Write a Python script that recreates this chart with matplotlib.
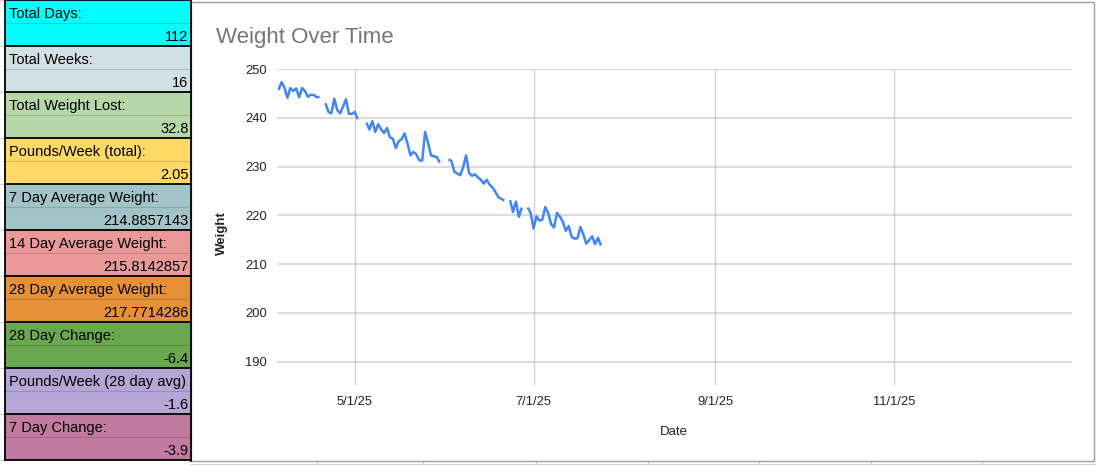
import matplotlib
matplotlib.use("Agg")
import matplotlib.pyplot as plt
import matplotlib.dates as mdates
from matplotlib.patches import Rectangle
import numpy as np
import datetime as dt

plt.rcParams['font.family'] = ['Liberation Sans', 'DejaVu Sans']

# ---------------- data ----------------
stat_labels = ["Total Days:", "Total Weeks:", "Total Weight Lost:", "Pounds/Week (total):",
               "7 Day Average Weight:", "14 Day Average Weight:", "28 Day Average Weight:",
               "28 Day Change:", "Pounds/Week (28 day avg)", "7 Day Change:"]
stat_values = ["112", "16", "32.8", "2.05", "214.8857143", "215.8142857", "217.7714286",
               "-6.4", "-1.6", "-3.9"]
stat_colors = ["#00FFFF", "#D0E0E3", "#B6D7A8", "#FFD966", "#A2C4C9", "#EA9999",
               "#E69138", "#6AA84F", "#B4A7D6", "#C27BA0"]

start_date = dt.date(2025, 4, 5)
nan = np.nan
weights = [
    245.7, 247.3, 246.2, 244.1, 246.1, 245.5, 246.0, 244.2, 246.1, 245.5,   # 0-9
    244.3, 244.7, 244.7, 244.2, 244.3, nan, 243.0, 241.2, 240.9, 243.9,     # 10-19
    241.6, 240.9, 242.3, 243.8, 240.8, 240.8, 241.2, 239.7, nan, nan,       # 20-29
    239.0, 237.6, 239.3, 237.1, 238.7, 237.6, 236.9, 237.9, 236.0, 235.7,   # 30-39
    233.8, 235.2, 235.6, 236.8, 234.7, 232.3, 233.0, 232.5, 231.3, 231.2,   # 40-49
    237.1, 234.9, 232.3, 232.1, 231.9, 230.8, nan, nan, 231.5, 231.1,       # 50-59
    228.9, 228.6, 228.2, 229.9, 232.3, 228.7, 228.1, 228.4, 227.8, 227.3,   # 60-69
    226.5, 227.3, 226.3, 225.7, 224.8, 223.7, 223.4, 223.0, nan, 223.1,     # 70-79
    220.7, 222.8, 219.7, 221.6, nan, 221.6, 220.5, 217.3, 219.8, 218.9,     # 80-89
    219.1, 221.7, 220.5, 218.2, 217.5, 220.5, 219.7, 218.7, 216.8, 217.8,   # 90-99
    215.6, 215.2, 215.3, 217.6, 216.1, 214.2, 214.9, 215.7, 214.1, 215.4,   # 100-109
    213.8,                                                                  # 110
]
dates = [start_date + dt.timedelta(days=i) for i in range(len(weights))]

y_ticks = [190, 200, 210, 220, 230, 240, 250]
x_ticks = [dt.date(2025, 5, 1), dt.date(2025, 7, 1), dt.date(2025, 9, 1), dt.date(2025, 11, 1)]
x_tick_labels = ["5/1/25", "7/1/25", "9/1/25", "11/1/25"]

# ---------------- figure ----------------
W, H = 1096, 465
fig = plt.figure(figsize=(W / 100, H / 100), dpi=100)
bg = fig.add_axes([0, 0, 1, 1])
bg.set_xlim(0, W)
bg.set_ylim(H, 0)
bg.axis('off')

# spreadsheet background gridlines (left margin & bottom)
for i in range(11):
    bg.plot([0, 5], [i * 46, i * 46], color="#d0d0d0", lw=0.8, zorder=1)
for xg in [317, 423, 536, 648, 759, 871, 982]:
    bg.plot([xg, xg], [461, 465], color="#d0d0d0", lw=0.8, zorder=1)
bg.plot([191, 1096], [463.5, 463.5], color="#d0d0d0", lw=0.8, zorder=1)

# stats table
x0, x1 = 5, 191
bh = 46
for i, (lab, val, col) in enumerate(zip(stat_labels, stat_values, stat_colors)):
    top = i * bh
    bg.add_patch(Rectangle((x0, top), x1 - x0, bh, facecolor=col, edgecolor='none', zorder=2))
    rgb = np.array(matplotlib.colors.to_rgb(col)) * 0.85
    bg.plot([x0, x1], [top + 23, top + 23], color=rgb, lw=0.8, zorder=3)
    bg.text(9, top + 18.3, lab, fontsize=10.5, color="#000000", ha='left', va='baseline', zorder=4)
    bg.text(188.5, top + 40.8, val, fontsize=10.5, color="#000000", ha='right', va='baseline', zorder=4)
for i in range(11):
    bg.plot([x0, x1], [i * bh, i * bh], color="black", lw=1.3, zorder=5)
bg.plot([x0, x0], [0, 460], color="black", lw=1.3, zorder=5)

# chart box
bg.add_patch(Rectangle((191, 2), 1094 - 191, 459, facecolor='white', edgecolor='#9e9e9e', lw=1.0, zorder=2))
bg.plot([x1, x1], [0, 461], color="black", lw=1.3, zorder=5)

bg.text(216, 42.8, "Weight Over Time", fontsize=16, color="#757575", ha='left', va='baseline', zorder=4)

# plot area (pixel coords)
pl, pr, pt, pb = 276.7, 1071.5, 69.0, 385.0
ax = fig.add_axes([pl / W, (H - pb) / H, (pr - pl) / W, (pb - pt) / H])
ax.patch.set_alpha(0)
ax.set_zorder(10)

ax.plot(dates, weights, color="#4285F4", lw=1.8, solid_capstyle='butt', zorder=3)

left = mdates.date2num(dt.date(2025, 5, 1)) - 26.65
right = mdates.date2num(dt.date(2025, 11, 1)) + 60.6
ax.set_xlim(left, right)
ax.set_ylim(185.2, 250)

ax.set_yticks(y_ticks)
ax.set_xticks(x_ticks)
ax.set_xticklabels(x_tick_labels)
ax.tick_params(axis='both', length=0, labelsize=9.3, labelcolor="#222222")
ax.tick_params(axis='y', pad=7)
ax.tick_params(axis='x', pad=8)
for yv in y_ticks:
    ax.axhline(yv, color="#dcdcdc", lw=1.6, zorder=1)
for xv in x_ticks:
    ax.axvline(mdates.date2num(xv), color="#cccccc", lw=0.9, zorder=1)
for s in ax.spines.values():
    s.set_visible(False)

ax.set_xlabel("Date", fontsize=9.5, color="#222222")
ax.xaxis.set_label_coords(0.5, -(426.0 - pb) / (pb - pt))
ax.set_ylabel("Weight", fontsize=9.5, color="#222222", fontweight='bold')
ax.yaxis.set_label_coords(-(pl - 228) / (pr - pl), (pb - 233) / (pb - pt))

fig.savefig("out.png", dpi=100)
